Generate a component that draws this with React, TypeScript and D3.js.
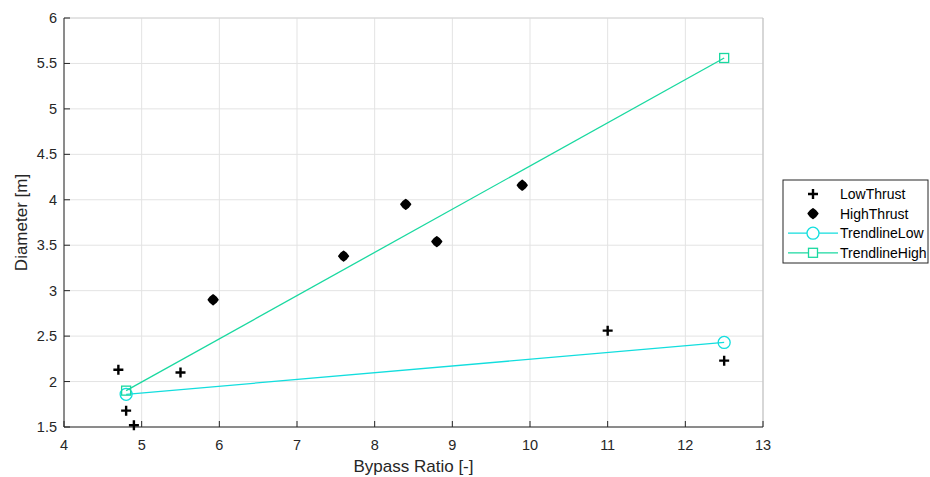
import React from "react";
import * as d3 from "d3";

// Engine survey: bypass ratio vs fan diameter
const lowBpr = [4.7, 4.8, 4.9, 5.5, 11.0, 12.5];
const lowDia = [2.13, 1.68, 1.52, 2.1, 2.56, 2.23];
const highBpr = [5.92, 7.6, 8.4, 8.8, 9.9];
const highDia = [2.9, 3.38, 3.95, 3.54, 4.16];
const trendLowBpr = [4.8, 12.5];
const trendLowDia = [1.86, 2.43];
const trendHighBpr = [4.8, 12.5];
const trendHighDia = [1.9, 5.56];
const xTicks = [4, 5, 6, 7, 8, 9, 10, 11, 12, 13];
const yTicks = [1.5, 2, 2.5, 3, 3.5, 4, 4.5, 5, 5.5, 6];
const legendLabels = ["LowThrust", "HighThrust", "TrendlineLow", "TrendlineHigh"];

const W = 930;
const H = 477;
const M = { left: 64, right: 763, top: 18, bottom: 427 };
const FONT = "'Liberation Sans', Arial, Helvetica, sans-serif";
const C_LOW = "#12dede";
const C_HIGH = "#1ad9a0";
const AXIS = "#262626";

const x = d3.scaleLinear().domain([4, 13]).range([M.left, M.right]);
const y = d3.scaleLinear().domain([1.5, 6]).range([M.bottom, M.top]);

const Plus = ({ cx, cy }: { cx: number; cy: number }) => (
  <path d={`M${cx - 5},${cy}H${cx + 5}M${cx},${cy - 5}V${cy + 5}`} stroke="#000" strokeWidth={2.4} fill="none" />
);

const Dot = ({ cx, cy }: { cx: number; cy: number }) => {
  const a = 4.8;
  const b = 2.7;
  return (
    <path
      d={`M${cx},${cy - a}L${cx + b},${cy - b}L${cx + a},${cy}L${cx + b},${cy + b}L${cx},${cy + a}L${cx - b},${cy + b}L${cx - a},${cy}L${cx - b},${cy - b}Z`}
      fill="#000"
      stroke="#000"
      strokeWidth={1.6}
      strokeLinejoin="round"
    />
  );
};

export default function App() {
  const lineGen = d3
    .line<[number, number]>()
    .x((d) => x(d[0]))
    .y((d) => y(d[1]));
  const lowPts = trendLowBpr.map((v, i) => [v, trendLowDia[i]] as [number, number]);
  const highPts = trendHighBpr.map((v, i) => [v, trendHighDia[i]] as [number, number]);

  const legX = 783;
  const legY = 180;
  const legW = 145;
  const legH = 83;
  const rowY = (i: number) => legY + 14 + i * 19.6;

  return (
    <svg width={W} height={H} style={{ position: "absolute", left: 0, top: 0, background: "#fff" }} fontFamily={FONT}>
      <rect width={W} height={H} fill="#fff" />
      {/* grid */}
      {xTicks.map((t) => (
        <line key={"gx" + t} x1={x(t)} x2={x(t)} y1={M.top} y2={M.bottom} stroke="#e3e3e3" strokeWidth={1} />
      ))}
      {yTicks.map((t) => (
        <line key={"gy" + t} x1={M.left} x2={M.right} y1={y(t)} y2={y(t)} stroke="#e3e3e3" strokeWidth={1} />
      ))}
      {/* box */}
      <line x1={M.left} x2={M.right} y1={M.top} y2={M.top} stroke="#d6d6d6" />
      <line x1={M.right} x2={M.right} y1={M.top} y2={M.bottom} stroke="#bdbdbd" />
      <line x1={M.left} x2={M.right} y1={M.bottom} y2={M.bottom} stroke={AXIS} />
      <line x1={M.left} x2={M.left} y1={M.top} y2={M.bottom} stroke={AXIS} />
      {/* ticks */}
      {xTicks.map((t) => (
        <g key={"tx" + t}>
          <line x1={x(t)} x2={x(t)} y1={M.bottom} y2={M.bottom - 6} stroke={AXIS} />
          <text x={x(t)} y={M.bottom + 23} fontSize={14.5} textAnchor="middle" fill={AXIS}>
            {t}
          </text>
        </g>
      ))}
      {yTicks.map((t) => (
        <g key={"ty" + t}>
          <line x1={M.left} x2={M.left + 6} y1={y(t)} y2={y(t)} stroke={AXIS} />
          <text x={M.left - 7} y={y(t) + 5} fontSize={14.5} textAnchor="end" fill={AXIS}>
            {t}
          </text>
        </g>
      ))}
      <text x={(M.left + M.right) / 2} y={472} fontSize={17} textAnchor="middle" fill={AXIS}>
        Bypass Ratio [-]
      </text>
      <text transform={`translate(27,${(M.top + M.bottom) / 2}) rotate(-90)`} fontSize={17} textAnchor="middle" fill={AXIS}>
        Diameter [m]
      </text>

      {/* trendlines */}
      <path d={lineGen(lowPts) || ""} stroke={C_LOW} strokeWidth={1.3} fill="none" />
      {lowPts.map((p, i) => (
        <circle key={"tl" + i} cx={x(p[0])} cy={y(p[1])} r={6} fill="none" stroke={C_LOW} strokeWidth={1.3} />
      ))}
      <path d={lineGen(highPts) || ""} stroke={C_HIGH} strokeWidth={1.3} fill="none" />
      {highPts.map((p, i) => (
        <rect key={"th" + i} x={x(p[0]) - 4.5} y={y(p[1]) - 4.5} width={9} height={9} fill="none" stroke={C_HIGH} strokeWidth={1.3} />
      ))}

      {/* data */}
      {lowBpr.map((v, i) => (
        <Plus key={"l" + i} cx={x(v)} cy={y(lowDia[i])} />
      ))}
      {highBpr.map((v, i) => (
        <Dot key={"h" + i} cx={x(v)} cy={y(highDia[i])} />
      ))}

      {/* legend */}
      <rect x={legX} y={legY} width={legW} height={legH} fill="#fff" stroke={AXIS} strokeWidth={1} />
      <Plus cx={legX + 30} cy={rowY(0)} />
      <Dot cx={legX + 30} cy={rowY(1)} />
      <line x1={legX + 5} x2={legX + 55} y1={rowY(2)} y2={rowY(2)} stroke={C_LOW} strokeWidth={1.3} />
      <circle cx={legX + 30} cy={rowY(2)} r={6} fill="#fff" stroke={C_LOW} strokeWidth={1.3} />
      <line x1={legX + 5} x2={legX + 55} y1={rowY(3)} y2={rowY(3)} stroke={C_HIGH} strokeWidth={1.3} />
      <rect x={legX + 25.5} y={rowY(3) - 4.5} width={9} height={9} fill="#fff" stroke={C_HIGH} strokeWidth={1.3} />
      {legendLabels.map((l, i) => (
        <text key={l} x={legX + 57} y={rowY(i) + 5} fontSize={14} fill="#000">
          {l}
        </text>
      ))}
    </svg>
  );
}
